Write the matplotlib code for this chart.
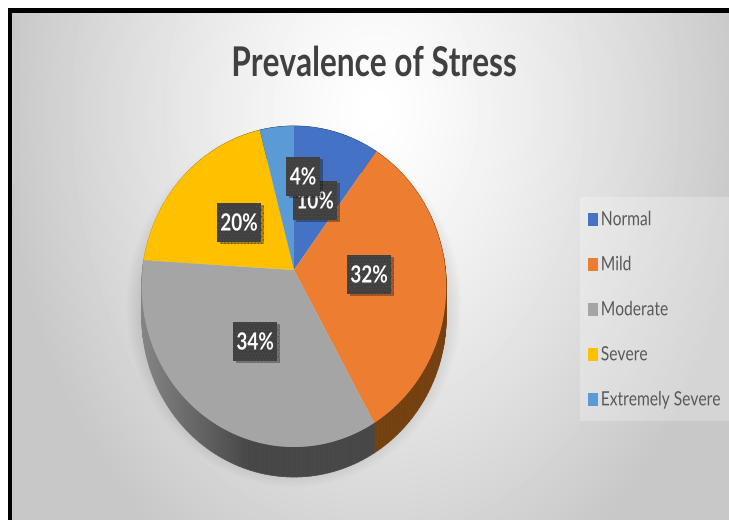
import numpy as np
from matplotlib import pyplot as plt
from matplotlib.colors import to_rgb
from matplotlib.patches import Patch, Polygon, Ellipse, Rectangle
from matplotlib.collections import PolyCollection
from matplotlib.patheffects import AbstractPathEffect, withSimplePatchShadow
from matplotlib.transforms import Affine2D

plt.rcParams['font.family'] = ['Lato', 'DejaVu Sans']
plt.rcParams['hatch.linewidth'] = 0.5

title = 'Prevalence of Stress'
categories = ['Normal', 'Mild', 'Moderate', 'Severe', 'Extremely Severe']
values = [10, 32, 34, 20, 4]
colors = ['#4472C4', '#ED7D31', '#A5A5A5', '#FFC000', '#5B9BD5']
wall_colors = ['#2a4476', '#74400f', '#474747', '#8a6800', '#36597b']
label_centers = [(315, 200), (369, 274), (255, 341), (239, 222), (303, 176)]

PIVOT_X, PIVOT_Y = 294, 270
DEPTH = 30


class Squeeze(AbstractPathEffect):
    # the reference font is a narrow one, so scale the glyphs of the text
    def __init__(self, sx, sy=1.0, center=False):
        super().__init__()
        self.sx, self.sy, self.center = sx, sy, center

    def draw_path(self, renderer, gc, tpath, affine, rgbFace=None):
        mid = 0
        if self.center:
            ext = tpath.get_extents()
            mid = (ext.x0 + ext.x1) / 2
        squeeze = Affine2D().translate(-mid, 0).scale(self.sx, self.sy).translate(mid, 0)
        renderer.draw_path(gc, tpath, squeeze + affine, rgbFace)


def warp(pts):
    # tilted pie: unit circle to picture pixels
    u, v = pts[:, 0], pts[:, 1]
    w = 1 + 0.103 * v
    return np.column_stack([PIVOT_X + 151.5 * u / w, PIVOT_Y - 158.8 * v / w])


fig = plt.figure(figsize=(7.29, 5.2), dpi=100, facecolor='white')
ax = fig.add_axes([0, 0, 1, 1])

wedges, _ = ax.pie(values, colors=colors, startangle=90, counterclock=False, radius=1, center=(0, 0))
ax.set_aspect('auto')
ax.axis('off')

# background
yy, xx = np.mgrid[0:520, 0:729]
rr = np.sqrt(((xx - 375) / 370.0) ** 2 + ((yy - 110) / 520.0) ** 2)
bg = 255 - 55 * np.clip(rr, 0, 1) ** 1.25
ax.imshow(bg, cmap='gray', vmin=0, vmax=255, extent=(0, 729, 520, 0), aspect='auto', zorder=0)
ax.set_xlim(0, 729)
ax.set_ylim(520, 0)

# frame: white margin then black line on left and top
ax.add_patch(Rectangle((0, 0), 729, 8, fc='white', ec='none', zorder=1))
ax.add_patch(Rectangle((0, 0), 8, 520, fc='white', ec='none', zorder=1))
ax.add_patch(Rectangle((8, 8), 721, 5, fc='black', ec='none', zorder=1))
ax.add_patch(Rectangle((8, 8), 4, 512, fc='black', ec='none', zorder=1))

# soft shadow under the pie
for grow in range(16, 0, -2):
    ax.add_patch(Ellipse((PIVOT_X, 306), 303 + 2 * grow, 330 + 2 * grow, fc='black', ec='none', alpha=0.012, zorder=2))

# side wall and top face
for wedge, wall in zip(wedges, wall_colors):
    theta = np.radians(np.linspace(wedge.theta1, wedge.theta2, 80))
    arc = warp(np.column_stack([wedge.r * np.cos(theta), wedge.r * np.sin(theta)]))
    top = np.vstack([warp(np.array([[0.0, 0.0]])), arc])
    quads = []
    shades = []
    base = np.array(to_rgb(wall))
    for a, b in zip(arc[:-1], arc[1:]):
        quads.append([a, b, b + [0, DEPTH], a + [0, DEPTH]])
        # wall gets lighter toward the left side
        k = np.clip((250 - (a[0] + b[0]) / 2) / 107.0, 0, 1)
        shades.append(np.clip(base + 0.24 * k, 0, 1))
    ax.add_collection(PolyCollection(quads, facecolors=shades, edgecolors=shades, linewidths=0.5, zorder=3))
    ax.add_patch(Polygon(top, closed=True, fc=wedge.get_facecolor(), ec='none', zorder=4))
    wedge.remove()

ax.text(374, 76, title, ha='center', va='baseline', fontsize=29.5, fontweight='bold', color='#404040', zorder=6,
        path_effects=[Squeeze(0.77, center=True)])

# data labels, the 4% box sits over the 10% one
for i, (v, (cx, cy)) in enumerate(zip(values, label_centers)):
    box_w = 34 if v < 10 else 44
    box = Rectangle((cx - box_w / 2, cy - 19.5), box_w, 39, fc='#404040', ec='#4e4e4e', lw=0, hatch='.....', zorder=7 + 2 * i)
    box.set_path_effects([withSimplePatchShadow(offset=(2, -2), shadow_rgbFace='black', alpha=0.3)])
    ax.add_patch(box)
    ax.text(cx, cy + 1, f'{v}%', ha='center', va='center', color='white', fontsize=17, fontweight='bold', zorder=8 + 2 * i,
            path_effects=[Squeeze(0.8, center=True)])

# legend
ax.add_patch(Rectangle((580, 197), 149, 224, fc='white', ec='none', alpha=0.25, zorder=5))
handles = [Patch(facecolor=c, edgecolor='none') for c in colors]
leg = ax.legend(handles, categories, loc='upper left', bbox_to_anchor=(588 / 729, 1 - 213 / 520), frameon=False,
                fontsize=11.8, labelcolor='#595959', handlelength=0.6, handleheight=0.85, handletextpad=0.18,
                labelspacing=1.82, borderpad=0, borderaxespad=0)
leg.set_zorder(6)
for t in leg.get_texts():
    t.set_path_effects([Squeeze(0.95, 1.2)])

fig.savefig('out.png', dpi=100)
